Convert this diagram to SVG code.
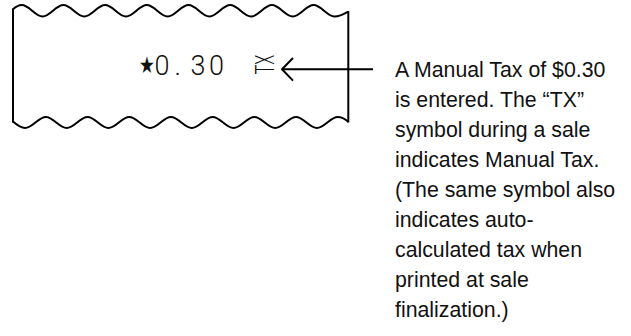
<svg xmlns="http://www.w3.org/2000/svg" width="631" height="336" viewBox="0 0 631 336">
<style>
.ln{fill:none;stroke:#000;stroke-width:2;stroke-linecap:butt;stroke-linejoin:round}
.note{font-family:"Liberation Sans",Arial,sans-serif;font-size:21.3px;fill:#111}
.thin{font-family:Roboto,"Liberation Sans",sans-serif;font-weight:300;fill:#111}
</style>
<rect width="631" height="336" fill="#fff"/>
<g id="receipt">
<path class="ln" d="M13,9.3 C15.5,7 18.5,5 21.7,5 C29.2,5 35.05,16.5 42.55,16.5 S55.9,5 63.4,5 S76.75,16.5 84.25,16.5 S97.6,5 105.1,5 S118.45,16.5 125.95,16.5 S139.3,5 146.8,5 S160.15,16.5 167.65,16.5 S181,5 188.5,5 S201.85,16.5 209.35,16.5 S222.7,5 230.2,5 S243.55,16.5 251.05,16.5 S264.4,5 271.9,5 S285.25,16.5 292.75,16.5 S306.1,5 313.6,5 S326.95,16.5 334.45,16.5 C340,16.5 344,14 348.3,11.5"/>
<path class="ln" d="M13,121.5 C17,125 21,128 25,128 C32.5,128 38.35,117 45.85,117 S59.2,128 66.7,128 S80.05,117 87.55,117 S100.9,128 108.4,128 S121.75,117 129.25,117 S142.6,128 150.1,128 S163.45,117 170.95,117 S184.3,128 191.8,128 S205.15,117 212.65,117 S226,128 233.5,128 S246.85,117 254.35,117 S267.7,128 275.2,128 S288.55,117 296.05,117 S309.4,128 316.9,128 S330.25,117 337.75,117 C341,117 345,119 348.3,121.7"/>
<path class="ln" d="M13,8.5 V122.5 M348.3,11 V122.5"/>
<text font-family="'DejaVu Sans',sans-serif" font-size="22" fill="#111" text-anchor="middle" transform="translate(147,73) scale(0.8,1.05)">★</text>
<text class="thin" font-size="27" x="154.5 174.6 190.6 208.9" y="74.5">0.30</text>
<text class="thin" font-size="26.5" transform="translate(274,74.5) rotate(-90) scale(0.62,1)">TX</text>
</g>
<g id="connectors">
<path class="ln" d="M373,69.3 H282"/>
<path class="ln" d="M293,58 L282,69.3 L293,80.6"/>
</g>
<g id="note">
<text class="note" x="395">
<tspan x="395" y="76.5">A Manual Tax of $0.30</tspan>
<tspan x="395" y="106.5">is entered. The “TX”</tspan>
<tspan x="395" y="136.5">symbol during a sale</tspan>
<tspan x="395" y="166.5">indicates Manual Tax.</tspan>
<tspan x="395" y="196.5">(The same symbol also</tspan>
<tspan x="395" y="226.5">indicates auto-</tspan>
<tspan x="395" y="256.5">calculated tax when</tspan>
<tspan x="395" y="286.5">printed at sale</tspan>
<tspan x="395" y="316.5">finalization.)</tspan>
</text>
</g>
</svg>
